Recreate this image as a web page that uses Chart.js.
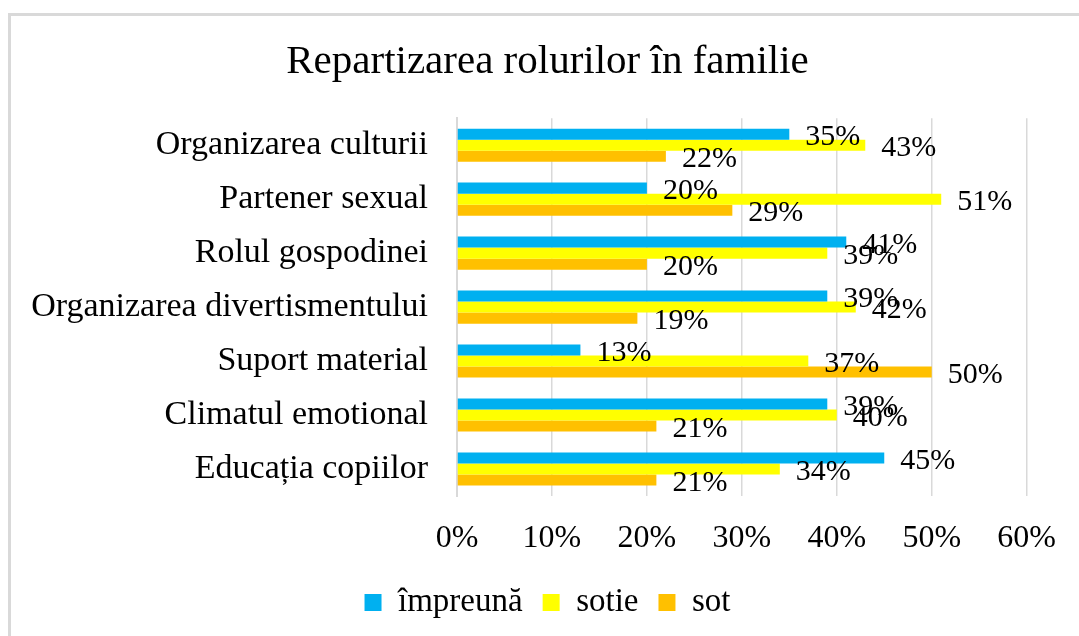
<!DOCTYPE html>
<html>
<head>
<meta charset="utf-8">
<script src="https://cdn.jsdelivr.net/npm/chart.js@4.4.1/dist/chart.umd.min.js"></script>
<style>
  html, body { margin: 0; padding: 0; background: #ffffff; overflow: hidden; }
  #frame { position: absolute; left: 8px; top: 13px; width: 2000px; height: 2000px;
           border-left: 3px solid #d9d9d9; border-top: 3px solid #d9d9d9; }
  #c { position: absolute; left: 0; top: 0; }
</style>
</head>
<body>
<div id="frame"></div>
<canvas id="c" width="1079" height="636"></canvas>
<script>
const chartTitle = 'Repartizarea rolurilor în familie';
const categories = [
  'Organizarea culturii',
  'Partener sexual',
  'Rolul gospodinei',
  'Organizarea divertismentului',
  'Suport material',
  'Climatul emotional',
  'Educația copiilor'
];
const seriesNames = ['împreună', 'sotie', 'sot'];
const impreuna = [35, 20, 41, 39, 13, 39, 45];
const sotie    = [43, 51, 39, 42, 37, 40, 34];
const sot      = [22, 29, 20, 19, 50, 21, 21];
const xTicks = [0, 10, 20, 30, 40, 50, 60];
const seriesColors = ['#00B0F0', '#FFFF00', '#FFC000'];

const FONT = "'Liberation Serif', 'Times New Roman', serif";

const dataLabelPlugin = {
  id: 'dataLabels',
  afterDatasetsDraw(chart) {
    const ctx = chart.ctx;
    ctx.save();
    ctx.font = '30px ' + FONT;
    ctx.fillStyle = '#000000';
    ctx.textAlign = 'left';
    ctx.textBaseline = 'middle';
    chart.data.datasets.forEach((ds, di) => {
      const meta = chart.getDatasetMeta(di);
      meta.data.forEach((bar, i) => {
        ctx.fillText(ds.data[i] + '%', bar.x + 16, bar.y + 3);
      });
    });
    ctx.restore();
  }
};

new Chart(document.getElementById('c'), {
  type: 'bar',
  data: {
    labels: categories,
    datasets: [
      { label: seriesNames[0], data: impreuna, backgroundColor: seriesColors[0], xAxisID: 'x', yAxisID: 'y' },
      { label: seriesNames[1], data: sotie, backgroundColor: seriesColors[1], xAxisID: 'x', yAxisID: 'y' },
      { label: seriesNames[2], data: sot, backgroundColor: seriesColors[2], xAxisID: 'x', yAxisID: 'y' }
    ]
  },
  options: {
    indexAxis: 'y',
    responsive: false,
    animation: false,
    devicePixelRatio: 1,
    layout: { padding: { left: 16, right: 0, top: 0, bottom: 7 } },
    datasets: { bar: { categoryPercentage: 0.613, barPercentage: 1.0 } },
    plugins: {
      title: {
        display: true,
        text: chartTitle,
        color: '#000000',
        font: { family: FONT, size: 41, weight: 'normal' },
        padding: { top: 38, bottom: 31 }
      },
      legend: {
        display: true,
        position: 'bottom',
        labels: {
          color: '#000000',
          font: { family: FONT, size: 33 },
          boxWidth: 17,
          boxHeight: 17,
          padding: 20
        }
      },
      tooltip: { enabled: false }
    },
    scales: {
      x: {
        min: xTicks[0],
        max: xTicks[xTicks.length - 1],
        afterBuildTicks: (scale) => { scale.ticks = xTicks.map(v => ({ value: v })); },
        ticks: {
          color: '#000000',
          font: { family: FONT, size: 32 },
          padding: 23,
          callback: (v) => v + '%'
        },
        grid: { color: '#d9d9d9', lineWidth: 1.5, drawTicks: false },
        border: { display: false },
        afterFit: (scale) => { scale.height = 70; }
      },
      y: {
        position: 'left',
        ticks: {
          color: '#000000',
          font: { family: FONT, size: 34 },
          padding: 29
        },
        grid: { display: false, drawTicks: false },
        border: { display: true, color: '#d9d9d9', width: 2 },
        afterFit: (scale) => { scale.width = 441; }
      },
      yRight: {
        type: 'category',
        position: 'right',
        ticks: { display: false },
        grid: { display: false, drawTicks: false },
        border: { display: false },
        afterFit: (scale) => { scale.width = 52; }
      }
    }
  },
  plugins: [dataLabelPlugin]
});
</script>
</body>
</html>
